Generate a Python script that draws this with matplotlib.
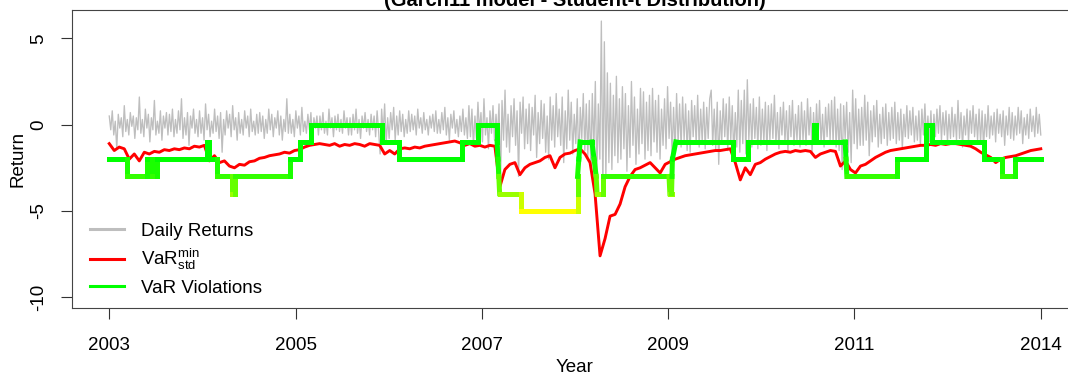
import numpy as np
import matplotlib
matplotlib.use('Agg')
import matplotlib.pyplot as plt
from matplotlib.collections import LineCollection
from matplotlib.lines import Line2D

plt.rcParams['font.family'] = ['Liberation Sans', 'DejaVu Sans']
plt.rcParams['mathtext.fontset'] = 'custom'
plt.rcParams['mathtext.rm'] = 'Liberation Sans'
plt.rcParams['mathtext.it'] = 'Liberation Sans:italic'
plt.rcParams['mathtext.bf'] = 'Liberation Sans:bold'

# daily returns (evenly spaced from 2003 to 2014)
returns = [
    0.5, -0.3, 0.8, -0.6, 0.2, -1.4, 0.6, -0.2, 0.4, -0.7, 1.1, -0.4, 0.3, -0.6, 0.7, -0.1, 0.5, -0.8, 0.4, -0.3,
    1.6, -0.5, 0.3, -0.7, 0.9, -0.2, 0.6, -1.0, 0.4, -0.3, 1.4, -0.6, 0.2, -0.5, 0.8, -0.9, 0.5, -0.2, 0.7, -0.6,
    0.6, -0.4, 0.9, -0.7, 0.3, -0.5, 0.8, -0.3, 1.5, -0.8, 0.4, -0.6, 0.7, -1.2, 0.5, -0.2, 0.9, -0.5, 0.3, -0.7,
    0.8, -0.5, 0.4, -0.9, 1.2, -0.3, 0.6, -0.7, 0.2, -0.5, 0.9, -0.4, 0.5, -0.8, 0.7, -1.6, 0.3, -0.6, 0.8, -0.2,
    0.6, -0.7, 1.1, -0.3, 0.4, -0.9, 0.7, -0.5, 0.3, -0.6, 0.8, -0.2, 0.5, -0.7, 0.9, -0.4, 0.2, -0.6, 0.6, -0.5,
    0.7, -0.4, 0.5, -0.8, 0.3, -0.5, 0.9, -0.3, 0.6, -0.7, 0.4, -0.2, 0.8, -0.6, 0.5, -0.9, 0.3, -0.4, 1.5, -0.5,
    0.6, -0.5, 0.3, -0.7, 0.8, -0.2, 0.5, -0.6, 1.0, -0.4, 0.2, -0.5, 0.6, -0.3, 0.7, -0.8, 0.4, -0.2, 0.5, -0.6,
    0.5, -0.3, 0.7, -0.5, 0.2, -0.6, 0.9, -0.2, 0.4, -0.7, 0.5, -0.3, 0.6, -0.4, 0.3, -0.5, 0.8, -0.2, 0.4, -0.6,
    0.4, -0.6, 0.6, -0.3, 0.9, -0.5, 0.3, -0.8, 0.5, -0.2, 0.7, -0.4, 0.3, -0.6, 0.6, -0.3, 0.5, -0.7, 0.8, -0.4,
    -1.7, 0.9, -0.5, 1.2, -1.1, 0.4, -0.8, 0.7, -0.3, 1.0, -0.9, 0.5, -0.6, 0.8, -0.4, 0.6, -0.7, 0.3, -0.5, 0.8,
    -0.4, 0.6, -0.3, 0.5, -0.6, 0.9, -0.2, 0.4, -0.5, 0.7, -0.3, 0.3, -0.6, 0.5, -0.2, 0.6, -0.4, 0.8, -0.5, 0.3,
    -0.5, 0.7, -0.3, 1.0, -0.6, 0.4, -0.9, 0.6, -0.2, 0.8, -0.5, 0.3, -0.7, 0.5, -0.4, 0.9, -0.6, 0.4, -0.8, 1.1,
    -0.7, 0.9, -1.2, 0.5, -0.8, 1.3, -0.4, 0.7, -1.0, 1.5, -0.6, 0.4, -1.4, 0.8, -0.5, 1.1, -0.9, 0.6, -0.7, 1.2,
    -3.3, 1.4, -0.9, 2.0, -1.3, 0.6, -1.6, 1.1, -0.7, 1.5, -1.2, 0.8, -3.0, 1.3, -0.5, 1.6, -1.4, 0.9, -1.1, 1.2,
    -1.5, 1.0, -0.6, 1.7, -1.9, 0.7, -1.1, 1.4, -0.8, 1.2, -1.6, 0.5, -2.0, 1.6, -0.9, 1.1, -1.3, 1.8, -0.7, 0.9,
    -1.2, 1.6, -2.2, 0.8, -1.4, 2.0, -0.9, 1.3, -1.7, 0.6, -1.1, 1.5, -2.3, 1.0, -0.8, 1.8, -1.5, 1.2, -1.9, 1.4,
    -2.4, 1.8, -1.5, 2.5, -3.0, 1.2, -2.0, 6.0, -3.8, 4.8, -3.1, 3.0, -2.2, 2.4, -2.6, 1.7, -1.8, 2.8, -2.2, 1.5,
    -2.0, 2.2, -1.4, 1.8, -2.7, 1.1, -1.9, 2.5, -1.2, 1.6, -2.3, 0.9, -1.7, 2.1, -1.1, 1.9, -2.0, 1.3, -1.5, 1.7,
    -1.8, 2.1, -1.0, 1.4, -1.6, 1.7, -2.0, 0.9, -1.2, 1.5, -1.4, 2.2, -0.8, 1.3, -1.7, 1.0, -1.5, 1.8, -1.1, 1.2,
    -1.3, 1.6, -0.9, 1.2, -1.5, 0.8, -1.6, 1.4, -0.7, 1.1, -1.1, 1.7, -1.3, 0.9, -1.0, 1.3, -1.4, 1.0, -0.8, 1.5,
    2.0, -1.2, 0.9, -1.4, 1.3, -2.3, 0.8, -1.0, 1.5, -0.7, 1.2, -1.5, 1.6, -0.9, 1.1, -1.8, 0.7, -1.3, 2.0, -1.6,
    1.4, -1.1, 2.0, -1.7, 2.6, -0.9, 1.2, -1.3, 1.5, -0.8, 1.0, -1.4, 1.6, -1.2, 0.9, -1.0, 1.3, -1.5, 1.1, -0.9,
    1.2, -0.8, 1.7, -1.1, 0.7, -1.4, 1.0, -0.6, 1.3, -1.0, 0.8, -1.6, 1.1, -0.7, 1.4, -1.2, 0.6, -0.9, 1.1, -1.3,
    1.3, -0.9, 0.8, -1.2, 1.5, -0.6, 1.0, -1.6, 0.7, -1.0, 1.2, -0.8, 1.4, -1.1, 0.6, -1.3, 1.0, -0.7, 1.2, -0.9,
    1.4, -1.0, 1.6, -1.3, 0.9, -1.5, 1.2, -2.6, 1.1, -0.8, 1.3, -1.6, 0.7, -2.2, 2.0, -1.1, 1.5, -1.4, 0.9, -1.2,
    1.0, -1.2, 1.7, -0.9, 1.3, -1.8, 0.8, -1.0, 1.1, -0.7, 1.4, -1.3, 0.6, -1.1, 1.0, -0.8, 1.2, -1.2, 0.7, -0.9,
    1.0, -0.8, 1.3, -1.1, 0.7, -0.9, 0.9, -1.4, 0.6, -0.7, 1.1, -0.8, 0.8, -0.6, 1.0, -1.0, 0.5, -0.9, 0.8, -1.2,
    0.9, -0.6, 1.2, -0.8, 0.5, -1.0, 0.8, -1.2, 0.6, -0.7, 0.9, -0.5, 1.1, -0.9, 0.7, -0.6, 0.8, -1.0, 0.6, -0.8,
    1.0, -0.7, 0.6, -0.9, 1.4, -0.8, 0.7, -1.3, 0.5, -0.6, 0.9, -1.0, 0.8, -0.5, 1.1, -0.7, 0.6, -0.9, 0.9, -1.0,
    0.8, -1.4, 0.6, -0.7, 1.1, -0.8, 0.5, -0.6, 0.7, -1.0, 0.9, -0.5, 0.6, -0.7, 0.8, -1.2, 0.5, -0.6, 1.0, -0.8,
    0.7, -0.9, 0.5, -0.6, 1.0, -0.5, 0.8, -1.1, 0.4, -0.6, 0.6, -0.8, 0.9, -0.4, 0.5, -0.7, 1.0, -0.5, 0.6, -0.6,
]

# VaR min (student-t), evenly spaced from 2003 to 2014
var_vals = [
    -1.1, -1.5, -1.3, -1.4, -2.0, -1.7, -2.1, -1.6, -1.7, -1.55,
    -1.6, -1.45, -1.5, -1.4, -1.45, -1.35, -1.4, -1.25, -1.3, -1.2,
    -2.1, -1.8, -2.2, -2.1, -2.4, -2.5, -2.3, -2.35, -2.15, -2.1,
    -1.95, -1.9, -1.8, -1.75, -1.7, -1.6, -1.65, -1.5, -1.45, -1.3,
    -1.2, -1.15, -1.1, -1.15, -1.2, -1.1, -1.25, -1.15, -1.2, -1.1,
    -1.15, -1.25, -1.1, -1.15, -1.2, -1.7, -1.5, -1.7, -1.4, -1.35,
    -1.4, -1.3, -1.35, -1.25, -1.2, -1.15, -1.1, -1.05, -1.0, -0.95,
    -1.05, -1.2, -1.1, -1.25, -1.2, -1.3, -1.2, -1.25, -3.6, -2.6,
    -2.3, -2.2, -2.9, -2.5, -2.3, -2.2, -2.1, -1.9, -1.8, -2.5,
    -1.9, -1.7, -1.65, -1.5, -1.4, -1.7, -2.2, -4.0, -7.6, -6.6,
    -5.3, -5.2, -4.6, -3.6, -3.0, -2.6, -2.5, -2.35, -2.2, -2.5,
    -2.8, -2.3, -2.15, -2.0, -1.9, -1.8, -1.75, -1.7, -1.65, -1.6,
    -1.55, -1.5, -1.5, -1.45, -1.4, -2.2, -3.2, -2.5, -2.9, -2.3,
    -2.2, -2.0, -1.85, -1.7, -1.6, -1.55, -1.6, -1.5, -1.55, -1.5,
    -1.55, -1.9, -1.7, -1.6, -1.5, -1.55, -2.4, -2.1, -2.6, -2.8,
    -2.4, -2.3, -2.1, -1.9, -1.75, -1.6, -1.5, -1.45, -1.4, -1.35,
    -1.3, -1.25, -1.2, -1.2, -1.15, -1.2, -1.1, -1.15, -1.1, -1.1,
    -1.15, -1.2, -1.25, -1.4, -1.6, -1.75, -1.9, -2.2, -2.0, -1.9,
    -1.85, -1.8, -1.7, -1.6, -1.5, -1.45, -1.4,
]

# VaR violations (step line)
viol_years = [2003.00, 2003.21, 2003.21, 2003.45, 2003.45, 2003.51, 2003.51, 2003.56, 2003.56, 2004.15,
              2004.15, 2004.18, 2004.18, 2004.27, 2004.27, 2004.45, 2004.45, 2004.48, 2004.48, 2005.13,
              2005.13, 2005.25, 2005.25, 2005.38, 2005.38, 2006.22, 2006.22, 2006.42, 2006.42, 2007.17,
              2007.17, 2007.36, 2007.36, 2007.58, 2007.58, 2007.60, 2007.61, 2007.86, 2007.86, 2008.53,
              2008.53, 2008.56, 2008.70, 2008.75, 2008.76, 2008.83, 2008.83, 2009.61, 2009.62, 2009.64,
              2009.65, 2009.69, 2010.36, 2010.36, 2010.54, 2010.54, 2011.32, 2011.32, 2011.34, 2011.34,
              2011.69, 2011.71, 2012.30, 2012.30, 2012.64, 2012.64, 2012.71, 2012.71, 2013.33, 2013.33,
              2013.54, 2013.54, 2013.70, 2013.70, 2014.00]
viol_levels = [-2, -2, -3, -3, -2, -2, -3, -3, -2, -2,
               -1, -1, -2, -2, -3, -3, -4, -4, -3, -3,
               -2, -2, -1, -1, 0, 0, -1, -1, -2, -2,
               -1, -1, 0, 0, -1, -3, -4, -4, -5, -5,
               -3, -1, -1, -3, -4, -4, -3, -3, -4, -4,
               -2, -1, -1, -2, -2, -1, -1, 0, 0, -1,
               -1, -3, -3, -2, -2, 0, 0, -1, -1, -2,
               -2, -3, -3, -2, -2]

tick_labels = ['2003', '2005', '2007', '2009', '2011', '2014']

fig = plt.figure(figsize=(10.68, 3.76), dpi=100)
ax = fig.add_axes([0.0674, 0.180, 0.942, 0.7934])

ax.plot(np.linspace(2003, 2014, len(returns)), returns, color='#BEBEBE', lw=0.95)
ax.plot(np.linspace(2003, 2014, len(var_vals)), var_vals, color='#FF0000', lw=2.1,
        solid_joinstyle='round')

# violations coloured by level, yellow at -5 to green at -2
segs, cols = [], []
for i in range(len(viol_years) - 1):
    x0, y0 = viol_years[i], viol_levels[i]
    x1, y1 = viol_years[i + 1], viol_levels[i + 1]
    n = max(1, int(round(abs(y1 - y0))))
    for k in range(n):
        xa = x0 + (x1 - x0) * k / n
        xb = x0 + (x1 - x0) * (k + 1) / n
        ya = y0 + (y1 - y0) * k / n
        yb = y0 + (y1 - y0) * (k + 1) / n
        segs.append([(xa, ya), (xb, yb)])
        r = np.interp((ya + yb) / 2, [-5, -4, -3, -2], [1.0, 0.6, 0.2, 0.0])
        cols.append((r, 1.0, 0.0))
lc = LineCollection(segs, colors=cols, linewidths=3.6, capstyle='projecting')
ax.add_collection(lc)

ax.set_xlim(2002.56, 2014.44)
ax.set_ylim(-10.64, 6.64)
ax.set_xticks(np.linspace(2003, 2014, 6))
ax.set_xticklabels(tick_labels)
ax.set_yticks([-10, -5, 0, 5])
ax.set_yticklabels(['-10', '-5', '0', '5'])
for lab in ax.get_yticklabels():
    lab.set_rotation(90)
    lab.set_va('center')
ax.tick_params(direction='out', length=7.9, width=0.8, colors='#333333',
               labelcolor='black', labelsize=13.5)
ax.tick_params(axis='x', pad=13)
ax.tick_params(axis='y', pad=10)
for s in ax.spines.values():
    s.set_color('#444444')
    s.set_linewidth(0.8)

ax.set_xlabel('Year', fontsize=13.5)
ax.xaxis.set_label_coords(0.5, -0.17)
ax.set_ylabel('Return', fontsize=13.5)
ax.yaxis.set_label_coords(-0.045, 0.5)
ax.set_title('(Garch11 model - Student-t Distribution)', fontsize=14.5,
             fontweight='bold', pad=2.2)

handles = [Line2D([], [], color='#BEBEBE', lw=2.2),
           Line2D([], [], color='#FF0000', lw=2.2),
           Line2D([], [], color='#00FF00', lw=2.2)]
labels = ['Daily Returns', r'VaR$_{\mathrm{std}}^{\mathrm{min}}$', 'VaR Violations']
ax.legend(handles, labels, loc='upper left', bbox_to_anchor=(0.018, 0.288),
          frameon=False, fontsize=13.5, handlelength=1.8, handletextpad=0.9,
          borderpad=0, borderaxespad=0, labelspacing=0.4)

fig.savefig('out.png', dpi=100)
